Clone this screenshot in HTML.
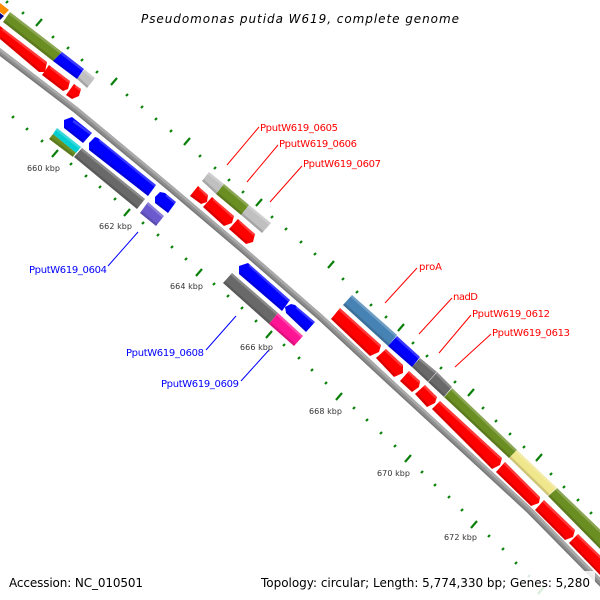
<!DOCTYPE html>
<html><head><meta charset="utf-8"><style>
html,body{margin:0;padding:0;background:#fff}
svg{display:block}
text{font-family:"DejaVu Sans","Liberation Sans",sans-serif}
</style></head><body>
<svg width="600" height="600" viewBox="0 0 600 600" xmlns="http://www.w3.org/2000/svg">
<rect width="600" height="600" fill="#fff"/>
<!-- backbone -->
<path d="M-10 44L0 52L76 110L170 188L243 250L320 317L390 382L464 450L529 510L595 577L615 597" fill="none" stroke="#8e8e8e" stroke-width="6.5"/>
<path d="M-10 44L0 52L76 110L170 188L243 250L320 317L390 382L464 450L529 510L595 577L615 597" fill="none" stroke="#aaaaaa" stroke-width="2.5" transform="translate(1.2,-1.4)"/>
<path d="M-10 44L0 52L76 110L170 188L243 250L320 317L390 382L464 450L529 510L595 577L615 597" fill="none" stroke="#7a7a7a" stroke-width="1.5" transform="translate(-1.6,1.8)"/>
<!-- small ticks -->
<path fill="none" stroke="#0a800a" stroke-width="2.2" d="M6 3l2-2M22 14l2-2M52 38l2-2M67 49l2-2M81 61l2-2M96 73l2-2M126 96l2-2M141 108l2-2M155 120l2-2M170 132l2-2M199 157l2-2M214 169l2-2M228 181l2-2M242 193l2-2M271 218l2-2M285 230l2-2M300 243l2-2M314 255l2-2M342 280l2-2M356 293l2-2M370 306l2-2M385 318l2-2M412 344l2-2M426 357l2-2M440 369l2-2M454 383l2-2M482 409l2-2M495 422l2-2M509 435l2-2M523 448l2-2M550 475l2-2M563 488l2-2M577 501l2-2M590 514l2-2
M12 118l2-2M26 130l2-2M41 142l2-2M70 165l2-2M85 177l2-2M99 188l2-2M114 200l2-2M142 224l2-2M157 236l2-2M171 248l2-2M185 260l2-2M213 285l2-2M227 297l2-2M241 309l2-2M255 322l2-2M283 346l2-2M298 359l2-2M311 371l2-2M325 384l2-2M353 409l2-2M366 421l2-2M380 434l2-2M394 447l2-2M421 473l2-2M434 486l2-2M448 498l2-2M461 511l2-2M488 537l2-2M502 550l2-2M515 564l2-2M528 577l2-2"/>
<!-- long ticks -->
<path fill="none" stroke="#0a800a" stroke-width="2.2" d="M36 26l6-7M111 85l6-7M184 145l6-7M256 206l6-7M328 268l6-7M398 331l6-7M468 396l6-7M536 461l6-7
M52 157l6-7M124 216l6-7M196 276l6-7M266 338l6-7M336 400l6-7M405 462l6-7M471 528l6-7M538 594l6-7"/>
<!-- genes -->
<g>
<polygon fill="#ff8c00" points="0,3 9,10 4,15 0,12"/>
<polygon fill="#00008b" points="0,13 4,16 0,20"/>
<polygon fill="#6b8e23" points="10,12 62,52 53,61 3,22"/>
<polygon fill="#0000ff" points="62,52 84,69 77,79 53,61"/>
<polygon fill="#c0c0c0" points="84.5,69.5 95,78 87,88 77,79"/>
<polygon fill="#ff0000" points="0,26 47,62 45,72 39,72 0,39"/>
<polygon fill="#ff0000" points="49,65 70,81 68,89 63,91 42,75"/>
<polygon fill="#ff0000" points="74,84 81,89 79,96 72,99 66,95"/>
<polygon fill="#00ced1" points="57,128 81,147 76,153 53,134"/>
<polygon fill="#6b8e23" points="53,134 76,153 73,157 49,139"/>
<polygon fill="#696969" points="82,148 145,199 137,209 74,157"/>
<polygon fill="#6a5acd" points="148,202 164,216 156,226 140,213"/>
<polygon fill="#0000ff" points="64,120 72,117 92,133 83,143 64,128"/>
<polygon fill="#0000ff" points="89,143 95,137 98,138 156,185 148,196 89,150"/>
<polygon fill="#0000ff" points="155,197 160,192 165,193 176,202 168,213 155,203"/>
<polygon fill="#c0c0c0" points="209,172 224,184 216,194 202,181"/>
<polygon fill="#6b8e23" points="224,184 249,205 241,215 216,194"/>
<polygon fill="#c0c0c0" points="249,205 271,223 262,233 241,215"/>
<polygon fill="#ff0000" points="198,186 208,195 207,202 201,204 190,196"/>
<polygon fill="#ff0000" points="212,197 234,216 232,223 224,226 203,207"/>
<polygon fill="#ff0000" points="238,219 255,234 253,242 246,244 229,229"/>
<polygon fill="#696969" points="232,273 278,313 269,324 223,283"/>
<polygon fill="#ff1493" points="278,313 303,336 294,346 269,324"/>
<polygon fill="#0000ff" points="239,266 248,263 290,300 282,311 239,274"/>
<polygon fill="#0000ff" points="285,307 291,304 295,305 315,322 306,332 286,313"/>
<polygon fill="#4682b4" points="352,295 397,335 388,346 343,305"/>
<polygon fill="#0000ff" points="397,336 420,357 412,367 388,346"/>
<polygon fill="#696969" points="420,358 437,372 428,382 412,367"/>
<polygon fill="#696969" points="437,372 452,387 444,397 428,382"/>
<polygon fill="#6b8e23" points="452,388 517,450 509,458 444,397"/>
<polygon fill="#f0e68c" points="517,450 557,488 548,496 509,458"/>
<polygon fill="#6b8e23" points="557,488 612,541 604,553 548,496"/>
<polygon fill="#ff0000" points="340,308 381,345 379,352 370,356 331,319"/>
<polygon fill="#ff0000" points="386,349 403,365 403,373 394,377 376,358"/>
<polygon fill="#ff0000" points="409,371 420,381 419,387 412,392 400,381"/>
<polygon fill="#ff0000" points="425,385 437,397 435,403 427,407 415,394"/>
<polygon fill="#ff0000" points="440,401 502,458 500,465 492,469 432,409"/>
<polygon fill="#ff0000" points="505,462 540,497 539,503 531,506 496,472"/>
<polygon fill="#ff0000" points="544,500 575,530 573,537 565,540 535,510"/>
<polygon fill="#ff0000" points="578,534 610,565 600,575 569,543"/>
</g>
<!-- top highlight -->
<path fill="none" stroke="#fff" stroke-opacity=".22" stroke-width="2.4" transform="translate(-.8,1)" d="M10 12L62 52M62 52L84 69M84.5 69.5L95 78M3 28L47 62M51 66L70 81M76 85L81 89M57 128L81 147M82 148L145 199M148 202L164 216M74 120L92 133M100 139L156 185M167 194L176 202M209 172L224 184M224 184L249 205M249 205L271 223M200 187L208 195M214 198L234 216M240 220L255 234M232 273L278 313M278 313L303 336M250 264L290 300M297 306L315 322M352 295L397 335M397 336L420 357M420 358L437 372M437 372L452 387M452 388L517 450M517 450L557 488M557 488L612 541M340 308L381 345M386 349L403 365M409 371L420 381M425 385L437 397M440 401L502 458M505 462L540 497M544 500L575 530M578 534L610 565"/>
<!-- bottom shadow -->
<path fill="none" stroke="#000" stroke-opacity=".14" stroke-width="2.4" transform="translate(.8,-1)" d="M3 22L53 61M53 61L77 79M77 79L87 88M0 39L39 72M42 75L63 91M66 95L72 99M49 139L73 157M74 157L137 209M140 213L156 226M64 128L83 143M89 150L148 196M155 203L168 213M202 181L216 194M216 194L241 215M241 215L262 233M190 196L201 204M203 207L224 226M229 229L246 244M223 283L269 324M269 324L294 346M239 274L282 311M286 313L306 332M343 305L388 346M388 346L412 367M412 367L428 382M428 382L444 397M444 397L509 458M509 458L548 496M548 496L604 553M331 319L370 356M376 358L394 377M400 381L412 392M415 394L427 407M432 409L492 469M496 472L531 506M535 510L565 540M569 543L600 575"/>
<!-- thin separators -->
<path fill="none" stroke="#fff" stroke-opacity=".6" stroke-width=".7" d="M437 372L428 382M452 388L444 397M557 488L548 496M76 153L73 157"/>
<!-- legend veil -->
<rect x="0" y="571" width="595" height="24" fill="#fff" fill-opacity=".85"/>
<!-- leader lines -->
<path fill="none" stroke="#ff0000" stroke-width="1" d="M259 127L227 165M278 145L247 182M302 166L270 202M417 268L385 303M452 298L419 334M471 315L439 353M491 334L455 367"/>
<path fill="none" stroke="#0000ff" stroke-width="1" d="M138 232L108 266M236 316L206 350M269 350L241 381"/>
<!-- text -->
<text x="141" y="23" font-size="12" font-style="italic" fill="#000" textLength="318" lengthAdjust="spacing">Pseudomonas putida W619, complete genome</text>
<text x="9" y="587" font-size="12" fill="#000" textLength="134" lengthAdjust="spacing">Accession: NC_010501</text>
<text x="261" y="587" font-size="12" fill="#000" textLength="329" lengthAdjust="spacing">Topology: circular; Length: 5,774,330 bp; Genes: 5,280</text>
<g font-size="10" fill="#ff0000">
<text x="260" y="131" textLength="78" lengthAdjust="spacing">PputW619_0605</text>
<text x="279" y="147" textLength="78" lengthAdjust="spacing">PputW619_0606</text>
<text x="303" y="167" textLength="78" lengthAdjust="spacing">PputW619_0607</text>
<text x="419" y="270" textLength="23" lengthAdjust="spacing">proA</text>
<text x="453" y="300" textLength="25" lengthAdjust="spacing">nadD</text>
<text x="472" y="317" textLength="78" lengthAdjust="spacing">PputW619_0612</text>
<text x="492" y="336" textLength="78" lengthAdjust="spacing">PputW619_0613</text>
</g>
<g font-size="10" fill="#0000ff">
<text x="29" y="273" textLength="78" lengthAdjust="spacing">PputW619_0604</text>
<text x="126" y="356" textLength="78" lengthAdjust="spacing">PputW619_0608</text>
<text x="161" y="387" textLength="78" lengthAdjust="spacing">PputW619_0609</text>
</g>
<g font-size="8" fill="#333">
<text x="27" y="171" textLength="33" lengthAdjust="spacing">660 kbp</text>
<text x="99" y="229" textLength="33" lengthAdjust="spacing">662 kbp</text>
<text x="170" y="289" textLength="33" lengthAdjust="spacing">664 kbp</text>
<text x="240" y="350" textLength="33" lengthAdjust="spacing">666 kbp</text>
<text x="309" y="414" textLength="33" lengthAdjust="spacing">668 kbp</text>
<text x="377" y="476" textLength="33" lengthAdjust="spacing">670 kbp</text>
<text x="444" y="540" textLength="33" lengthAdjust="spacing">672 kbp</text>
</g>
</svg>
</body></html>
